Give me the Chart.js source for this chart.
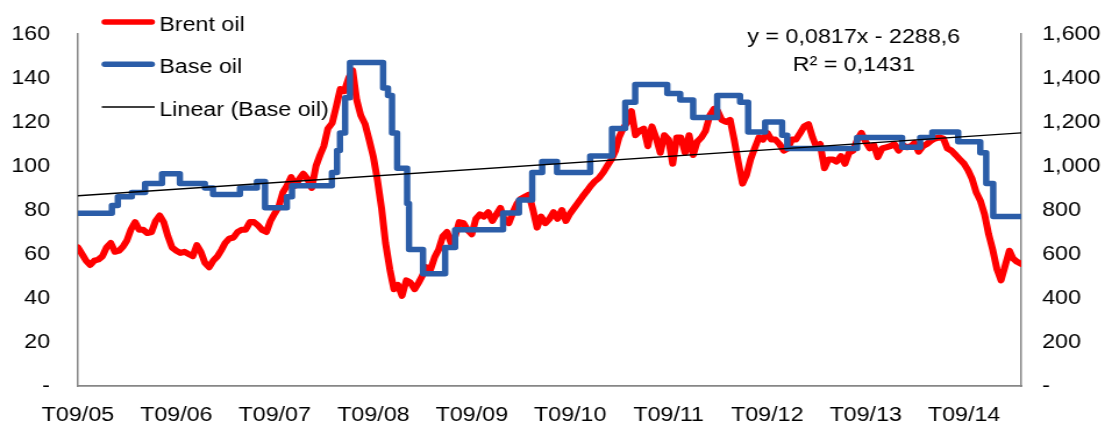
<!DOCTYPE html>
<html>
<head>
<meta charset="utf-8">
<script src="https://cdn.jsdelivr.net/npm/chart.js@4/dist/chart.umd.min.js"></script>
<style>
  html, body { margin: 0; padding: 0; background: #fff; }
  canvas { display: block; }
</style>
</head>
<body>
<canvas id="chart" width="950" height="423" style="width:1105px;height:423px"></canvas>
<script>
// x axis: one labelled tick each September
const xStart = '2005-09-01';
const xEnd = '2015-04-01';
const xTickDates = ['2005-09-01', '2006-09-01', '2007-09-01', '2008-09-01', '2009-09-01',
                    '2010-09-01', '2011-09-01', '2012-09-01', '2013-09-01', '2014-09-01'];
const xTickLabels = ['T09/05', 'T09/06', 'T09/07', 'T09/08', 'T09/09',
                     'T09/10', 'T09/11', 'T09/12', 'T09/13', 'T09/14'];

// Brent oil (USD/bbl), sampled on the 1st and 16th of each month from Sep 2005
const brentValues = [
  63, 60, 57, 55, 57, 57.5, 59, 63, 65, 61,
  61.5, 63.5, 66, 71, 74.5, 71, 71, 69.5, 70, 75,
  77.5, 74.5, 68, 63, 61.5, 60.5, 61, 60, 59, 64,
  61, 56, 54, 57, 59, 62, 65, 67, 67.5, 70,
  71, 71, 74.5, 74.5, 73, 71, 70, 75, 78.5, 81.5,
  88, 91, 95, 91, 94, 96.5, 94, 90, 100, 105,
  109, 117, 119.5, 127, 135, 134, 140, 143.5, 130, 123,
  119, 112, 104, 93.5, 81, 65, 53, 44, 46, 41,
  48, 47, 44, 47, 50, 54, 53, 58.5, 62, 68,
  70, 65, 68, 74.5, 74, 71, 69, 76, 78, 77,
  79, 75, 78, 81, 75, 74, 79, 83, 85, 86,
  87, 80, 72, 77, 74, 76, 79, 76, 80, 75,
  78.5, 81, 83.5, 86, 88.5, 91, 93, 94.5, 97, 100,
  103, 107, 113, 117, 120, 125, 114, 116, 117, 109,
  118, 113, 106, 114, 112, 101, 113, 113, 106, 114,
  105, 111, 113, 116, 123, 126, 125, 121, 120, 121,
  112, 102, 92, 96, 103, 108, 113, 112, 115, 112,
  112, 110, 107, 108, 112, 112, 115, 118, 119, 113,
  109, 110, 99, 103, 103, 102, 104.5, 101, 106, 107,
  112, 115, 111, 108, 109.5, 104, 108, 108.5, 109, 110,
  107, 109.5, 108.5, 109, 110.5, 106.5, 109, 110, 111.5, 112.5,
  113, 112.5, 108, 107, 105, 103, 101, 98, 94, 88,
  84, 78, 69, 62, 53, 48, 55, 61.5, 58, 56.5,
  55.5
];

// Base oil (USD/t): each value holds from its date until the next change
const baseOilDates = [
  '2005-09-01', '2006-01-05', '2006-01-27', '2006-03-20', '2006-05-08', '2006-07-10',
  '2006-09-14', '2006-12-16', '2007-01-15', '2007-04-25', '2007-06-27', '2007-07-27',
  '2007-10-16', '2007-11-04', '2008-03-31', '2008-04-19', '2008-04-30', '2008-05-19',
  '2008-06-06', '2008-10-07', '2008-10-25', '2008-11-09', '2008-11-28', '2009-01-04',
  '2009-01-11', '2009-03-04', '2009-05-25', '2009-07-01', '2009-12-26', '2010-02-23',
  '2010-04-13', '2010-05-20', '2010-07-14', '2010-11-14', '2011-02-03', '2011-03-24',
  '2011-04-30', '2011-08-27', '2011-10-14', '2011-12-01', '2012-02-28', '2012-05-23',
  '2012-06-22', '2012-08-24', '2012-10-26', '2012-11-14', '2013-07-31', '2014-01-14',
  '2014-03-22', '2014-05-06', '2014-08-10', '2014-10-31', '2014-11-22', '2014-12-18',
  '2015-04-01'
];
const baseOilValues = [
  785, 820, 860, 880, 920, 965,
  920, 900, 870, 900, 930, 810,
  860, 910, 970, 1070, 1150, 1310,
  1470, 1355, 1320, 1150, 990, 830,
  620, 510, 630, 710, 786, 845,
  970, 1020, 970, 1045, 1170, 1290,
  1370, 1330, 1300, 1220, 1320, 1290,
  1155, 1200, 1140, 1080, 1130, 1085,
  1130, 1155, 1110, 1060, 920, 770,
  770
];

// Linear trend of base oil against the date serial number
const trendSlope = 0.0817;
const trendIntercept = -2288.6;
const trendText = ['y = 0,0817x - 2288,6', 'R\u00B2 = 0,1431'];

// Axis ranges
const leftMax = 160, leftStep = 20;
const rightMax = 1600, rightStep = 200;

const RED = '#FF0000';
const BLUE = '#2B5DA8';
const AXIS = '#868686';
const FONT = '"Liberation Sans", Arial, sans-serif';

// date string -> spreadsheet serial day number
function serial(s) {
  const [y, m, d] = s.split('-').map(Number);
  return Math.round((Date.UTC(y, m - 1, d) - Date.UTC(1899, 11, 30)) / 86400000);
}

const brentPoints = brentValues.map((v, i) => {
  const month = 8 + Math.floor(i / 2);
  const y = 2005 + Math.floor(month / 12);
  const m = (month % 12) + 1;
  const d = i % 2 ? 16 : 1;
  return { x: serial(`${y}-${String(m).padStart(2, '0')}-${String(d).padStart(2, '0')}`), y: v };
});
const basePoints = baseOilDates.map((d, i) => ({ x: serial(d), y: baseOilValues[i] }));
const xMin = serial(xStart), xMax = serial(xEnd);
const trendPoints = [xMin, xMax].map(x => ({ x, y: trendSlope * x + trendIntercept }));
const tickLookup = new Map(xTickDates.map((d, i) => [serial(d), xTickLabels[i]]));

const overlay = {
  id: 'overlay',
  afterDraw(chart) {
    const ctx = chart.ctx;
    ctx.save();
    ctx.font = `20px ${FONT}`;
    ctx.fillStyle = '#000';
    ctx.textBaseline = 'alphabetic';
    // legend
    const items = [
      { label: 'Brent oil', color: RED, width: 5.5, y: 22, base: 30.5 },
      { label: 'Base oil', color: BLUE, width: 5.5, y: 64.3, base: 72.6 },
      { label: 'Linear (Base oil)', color: '#000', width: 1.4, y: 107, base: 115.5 }
    ];
    items.forEach(it => {
      ctx.strokeStyle = it.color;
      ctx.lineWidth = it.width;
      ctx.lineCap = it.width > 2 ? 'round' : 'butt';
      ctx.beginPath();
      ctx.moveTo(it.width > 2 ? 90 : 87.5, it.y);
      ctx.lineTo(it.width > 2 ? 130.5 : 133, it.y);
      ctx.stroke();
      ctx.textAlign = 'left';
      ctx.fillText(it.label, 137, it.base);
    });
    // trend equation
    ctx.textAlign = 'center';
    ctx.fillText(trendText[0], 734, 43.3);
    ctx.fillText(trendText[1], 734, 70.8);
    ctx.restore();
  }
};

Chart.defaults.font.family = FONT;
Chart.defaults.font.size = 20;
Chart.defaults.color = '#000';

new Chart(document.getElementById('chart'), {
  type: 'line',
  data: {
    datasets: [
      {
        label: 'Linear (Base oil)', data: trendPoints, yAxisID: 'y1',
        borderColor: '#000', borderWidth: 1.4, pointRadius: 0, order: 0
      },
      {
        label: 'Base oil', data: basePoints, yAxisID: 'y1', stepped: 'before',
        borderColor: BLUE, borderWidth: 5.5, pointRadius: 0, order: 1,
        borderCapStyle: 'round', borderJoinStyle: 'round'
      },
      {
        label: 'Brent oil', data: brentPoints, yAxisID: 'y',
        borderColor: RED, borderWidth: 6, pointRadius: 0, order: 2,
        borderCapStyle: 'round', borderJoinStyle: 'round'
      }
    ]
  },
  options: {
    responsive: false,
    devicePixelRatio: 1,
    animation: false,
    layout: { padding: { top: 34, left: 0, right: 0, bottom: 0 } },
    plugins: { legend: { display: false }, tooltip: { enabled: false } },
    scales: {
      x: {
        type: 'linear', min: xMin, max: xMax,
        grid: { display: false },
        border: { display: true, color: AXIS, width: 1.7 },
        ticks: {
          autoSkip: false, maxRotation: 0, padding: 9,
          callback: v => tickLookup.get(v) || ''
        },
        afterBuildTicks: s => { s.ticks = xTickDates.map(d => ({ value: serial(d) })); },
        afterFit: s => { s.height = 37; }
      },
      y: {
        position: 'left', min: 0, max: leftMax,
        grid: { display: false },
        border: { display: true, color: AXIS, width: 1.5 },
        ticks: { stepSize: leftStep, padding: 16, callback: v => v === 0 ? '-' : String(v) },
        afterFit: s => { s.width = 67; }
      },
      y1: {
        position: 'right', min: 0, max: rightMax,
        grid: { display: false },
        border: { display: true, color: AXIS, width: 1.5 },
        ticks: { stepSize: rightStep, padding: 10, callback: v => v === 0 ? '-' : v.toLocaleString('en-US') },
        afterFit: s => { s.width = 72; }
      }
    }
  },
  plugins: [overlay]
});
</script>
</body>
</html>
